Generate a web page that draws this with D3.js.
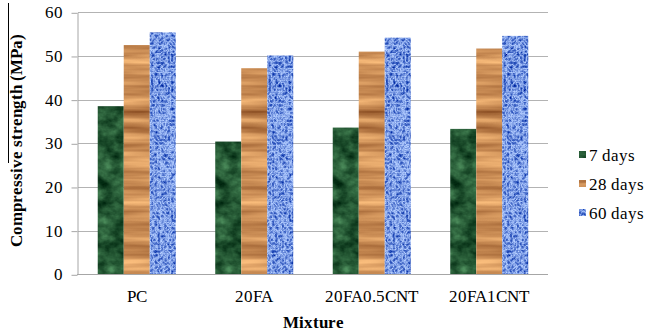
<!DOCTYPE html>
<html>
<head>
<meta charset="utf-8">
<script src="https://cdn.jsdelivr.net/npm/d3@7"></script>
<style>
  @font-face { font-family: "ChartSerif"; src: local("Liberation Serif"), local("LiberationSerif"), local("Times New Roman"); font-weight: normal; }
  @font-face { font-family: "ChartSerif"; src: local("Liberation Serif Bold"), local("LiberationSerif-Bold"), local("Times New Roman Bold"); font-weight: bold; }
  .lbl { font-family: "ChartSerif", "Liberation Serif", "Times New Roman", Tinos !important; }
</style>
</head>
<body style="margin:0">
<script>
// Compressive strength of the mixtures at three curing ages
const mixtures = ["PC", "20FA", "20FA0.5CNT", "20FA1CNT"];
const seriesNames = ["7 days", "28 days", "60 days"];
const days7 = [38.5, 30.4, 33.6, 33.3];
const days28 = [52.5, 47.2, 51.0, 51.7];
const days60 = [55.4, 50.1, 54.2, 54.6];
const yTicks = [0, 10, 20, 30, 40, 50, 60];

const seriesValues = [days7, days28, days60];

const W = 654, H = 335;
const margin = { left: 78, right: 106, top: 12.3, bottom: 60.7 };

const svg = d3.select("body").append("svg")
  .attr("width", W).attr("height", H);

// Textures for the three series, generated with turbulence noise
const defs = svg.append("defs");
const textures = [
  { id: "tex-green", type: "fractalNoise", freq: "0.06 0.08", oct: 4, seed: 3,
    base: [0.14, 0.34, 0.20], k: [0.45, 0.6, 0.45] },
  { id: "tex-wood", type: "fractalNoise", freq: "0.008 0.12", oct: 3, seed: 7,
    base: [0.80, 0.56, 0.34], k: [0.6, 0.6, 0.48] },
  { id: "tex-blue", type: "turbulence", freq: "0.3 0.26", oct: 2, seed: 11,
    base: [0.52, 0.64, 0.91], k: [-1.0, -0.9, -0.5] }
];
textures.forEach(t => {
  const f = defs.append("filter").attr("id", t.id)
    .attr("x", 0).attr("y", 0).attr("width", 1).attr("height", 1)
    .attr("color-interpolation-filters", "sRGB");
  f.append("feTurbulence")
    .attr("type", t.type).attr("baseFrequency", t.freq)
    .attr("numOctaves", t.oct).attr("seed", t.seed).attr("result", "noise");
  const center = t.type === "turbulence" ? 0.2 : 0.5;
  const row = (i) => `${t.k[i]} 0 0 0 ${t.base[i] - center * t.k[i]}`;
  f.append("feColorMatrix").attr("in", "noise").attr("type", "matrix")
    .attr("values", `${row(0)} ${row(1)} ${row(2)} 0 0 0 0 1`)
    .attr("result", "tint");
  f.append("feComposite").attr("in", "tint").attr("in2", "SourceGraphic")
    .attr("operator", "in");
});
const fallbackColors = ["#2a5f36", "#cf8f58", "#7f9ee0"];

const x0 = d3.scaleBand()
  .domain(mixtures)
  .range([margin.left, W - margin.right])
  .paddingInner(0.336).paddingOuter(0.168);
const x1 = d3.scaleBand()
  .domain(seriesNames)
  .range([0, x0.bandwidth()]);
const y = d3.scaleLinear()
  .domain([0, 60])
  .range([H - margin.bottom, margin.top]);

// Horizontal gridlines
svg.append("g").selectAll("line")
  .data(yTicks.filter(d => d > 0))
  .join("line")
  .attr("x1", margin.left).attr("x2", W - margin.right)
  .attr("y1", d => Math.round(y(d)) + 0.5).attr("y2", d => Math.round(y(d)) + 0.5)
  .attr("stroke", "#b3b3b3").attr("stroke-width", 1);

// Y axis
const yAxis = svg.append("g")
  .attr("transform", `translate(${margin.left - 0.5},0)`)
  .call(d3.axisLeft(y).tickValues(yTicks).tickSize(6).tickPadding(9).tickSizeOuter(0));
yAxis.attr("font-family", null).attr("font-size", null);
yAxis.select(".domain").attr("stroke", "#a6a6a6");
yAxis.selectAll(".tick line").attr("stroke", "#a6a6a6")
  .attr("transform", "translate(0,0.5)");
yAxis.selectAll(".tick text").attr("fill", "#000")
  .attr("class", "lbl").style("font-size", "17px");

// Bars
const groups = svg.append("g").selectAll("g")
  .data(mixtures)
  .join("g")
  .attr("transform", d => `translate(${x0(d)},0)`);
groups.selectAll("rect")
  .data((m, i) => seriesNames.map((s, j) => ({ s, j, v: seriesValues[j][i] })))
  .join("rect")
  .attr("x", d => x1(d.s))
  .attr("width", x1.bandwidth())
  .attr("y", d => y(d.v))
  .attr("height", d => y(0) - y(d.v))
  .attr("fill", d => fallbackColors[d.j])
  .attr("filter", d => `url(#${textures[d.j].id})`);

// X axis baseline and category labels
svg.append("line")
  .attr("x1", margin.left - 1).attr("x2", W - margin.right)
  .attr("y1", Math.round(y(0)) + 0.5).attr("y2", Math.round(y(0)) + 0.5)
  .attr("stroke", "#a6a6a6");
svg.append("g").selectAll("text")
  .data(mixtures)
  .join("text")
  .attr("class", "lbl")
  .attr("x", d => x0(d) + x0.bandwidth() / 2)
  .attr("y", 302)
  .attr("text-anchor", "middle")
  .style("font-size", "17px")
  .text(d => d);

// Axis titles
svg.append("text")
  .attr("class", "lbl")
  .attr("x", (margin.left + W - margin.right) / 2)
  .attr("y", 328)
  .attr("text-anchor", "middle")
  .style("font-size", "17px").style("font-weight", "bold")
  .text("Mixture");
svg.append("text")
  .attr("class", "lbl")
  .attr("transform", "translate(22,140) rotate(-90)")
  .attr("text-anchor", "middle")
  .style("font-size", "17px").style("font-weight", "bold")
  .text("Compressive strength (MPa)");
svg.append("line")
  .attr("x1", 8.5).attr("x2", 8.5).attr("y1", 3).attr("y2", 163)
  .attr("stroke", "#000").attr("stroke-width", 1);

// Legend
const legend = svg.append("g").selectAll("g")
  .data(seriesNames)
  .join("g")
  .attr("transform", (d, i) => `translate(579,${155 + i * 29})`);
legend.append("rect")
  .attr("x", 0).attr("y", -4).attr("width", 7).attr("height", 7)
  .attr("fill", (d, i) => fallbackColors[i])
  .attr("filter", (d, i) => `url(#${textures[i].id})`);
legend.append("text")
  .attr("class", "lbl")
  .attr("x", 10).attr("y", 5.5)
  .style("font-size", "17px")
  .text(d => d);
</script>
</body>
</html>
